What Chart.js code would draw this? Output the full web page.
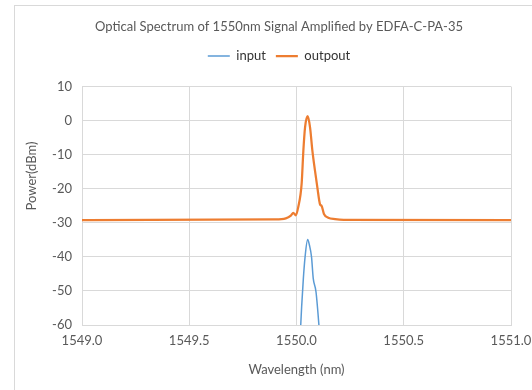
<!DOCTYPE html>
<html>
<head>
<meta charset="utf-8">
<script src="https://cdn.jsdelivr.net/npm/chart.js@4"></script>
<style>
  html, body { margin: 0; padding: 0; background: #fff; overflow: hidden; }
  #wrap { position: relative; width: 532px; height: 390px; }
  #frame { position: absolute; left: 14px; top: 5px; width: 600px; height: 500px;
           border-left: 1px solid #d9d9d9; border-top: 1px solid #d9d9d9; }
  canvas { position: absolute; left: 0; top: 0; }
</style>
</head>
<body>
<div id="wrap">
  <div id="frame"></div>
  <canvas id="spec" width="532" height="390"></canvas>
</div>
<script>
// data
const outWl  = [1549.0, 1549.9, 1549.95, 1549.975, 1549.985, 1549.997, 1550.008, 1550.024, 1550.032, 1550.040, 1550.052, 1550.063, 1550.074, 1550.086, 1550.097, 1550.110, 1550.117, 1550.128, 1550.148, 1550.18, 1550.22, 1551.0];
const outDbm = [-29.2, -29.0, -28.7, -27.8, -27.1, -27.8, -25.4, -18.5, -8.8, -1.9, 1.3, -1.9, -8.8, -14.6, -19.5, -24.6, -25.0, -27.4, -28.5, -28.9, -29.1, -29.2];

const inWl  = [1550.012, 1550.024, 1550.032, 1550.040, 1550.052, 1550.060, 1550.070, 1550.078, 1550.091, 1550.112];
const inDbm = [-70, -54.6, -46.3, -40.0, -34.9, -36.5, -40.0, -46.3, -50.3, -66];

const xTicks = [1549.0, 1549.5, 1550.0, 1550.5, 1551.0];
const yTicks = [10, 0, -10, -20, -30, -40, -50, -60];

const toPts = (xs, ys) => xs.map((x, i) => ({ x: x, y: ys[i] }));

const FONT = 'Lato, "Open Sans", sans-serif';
const GREY = '#595959';
const GRID = '#d9d9d9';

// extra room under the legend (legend.update calls fit() only)
const legendGap = {
    id: 'legendGap',
    afterInit(chart) {
        const lg = chart.legend;
        if (!lg) return;
        const orig = lg.fit.bind(lg);
        lg.fit = function () { orig(); this.height += 14; };
    }
};

// y title sits a bit above centre like the original
const yTitle = {
    id: 'yTitle',
    afterDraw(chart) {
        const ctx = chart.ctx;
        ctx.save();
        ctx.translate(32, 176);
        ctx.rotate(-Math.PI / 2);
        ctx.font = '13px ' + FONT;
        ctx.fillStyle = GREY;
        ctx.textAlign = 'center';
        ctx.textBaseline = 'middle';
        ctx.fillText('Power(dBm)', 0, 0);
        ctx.restore();
    }
};

new Chart(document.getElementById('spec'), {
    type: 'scatter',
    data: {
        datasets: [{
            label: 'input',
            data: toPts(inWl, inDbm),
            showLine: true,
            borderColor: '#5B9BD5',
            backgroundColor: '#5B9BD5',
            borderWidth: 1.5,
            pointRadius: 0,
            cubicInterpolationMode: 'monotone'
        }, {
            label: 'outpout',
            data: toPts(outWl, outDbm),
            showLine: true,
            borderColor: '#ED7D31',
            backgroundColor: '#ED7D31',
            borderWidth: 2.25,
            pointRadius: 0,
            cubicInterpolationMode: 'monotone'
        }]
    },
    options: {
        responsive: false,
        animation: false,
        layout: { padding: { left: 47, right: 21, top: 0, bottom: 8 } },
        plugins: {
            title: {
                display: true,
                text: 'Optical Spectrum of 1550nm Signal Amplified by EDFA-C-PA-35',
                color: GREY,
                font: { family: FONT, size: 13, weight: 'normal' },
                padding: { top: 19, bottom: 5 }
            },
            legend: {
                labels: {
                    usePointStyle: true,
                    pointStyle: 'line',
                    pointStyleWidth: 22,
                    padding: 10,
                    color: '#333',
                    font: { family: FONT, size: 13 }
                }
            },
            tooltip: { enabled: false }
        },
        scales: {
            x: {
                type: 'linear',
                min: xTicks[0],
                max: xTicks[xTicks.length - 1],
                afterBuildTicks: (s) => { s.ticks = xTicks.map(v => ({ value: v })); },
                afterFit: (s) => { s.height = 57; s.paddingLeft = 0; s.paddingRight = 0; },
                ticks: {
                    callback: (v) => Number(v).toFixed(1),
                    color: GREY,
                    font: { family: FONT, size: 13 },
                    padding: 8,
                    maxRotation: 0
                },
                grid: { color: GRID, drawTicks: false },
                border: { color: GRID },
                title: {
                    display: true,
                    text: 'Wavelength (nm)',
                    color: GREY,
                    font: { family: FONT, size: 13 },
                    padding: { top: 6 }
                }
            },
            y: {
                min: yTicks[yTicks.length - 1],
                max: yTicks[0],
                afterBuildTicks: (s) => { s.ticks = yTicks.slice().reverse().map(v => ({ value: v })); },
                afterFit: (s) => { s.width = 35; },
                ticks: {
                    color: GREY,
                    font: { family: FONT, size: 13 },
                    padding: 10
                },
                grid: { color: GRID, drawTicks: false },
                border: { color: GRID }
            }
        }
    },
    plugins: [legendGap, yTitle]
});
</script>
</body>
</html>
